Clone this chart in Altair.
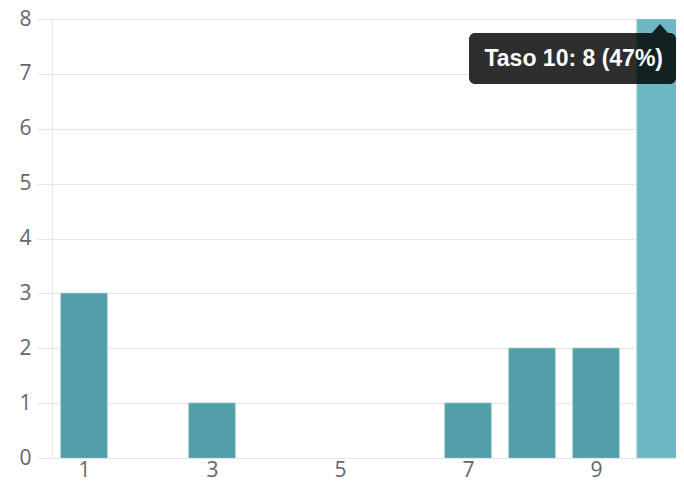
import altair as alt
import pandas as pd

# data
levels = [1, 2, 3, 4, 5, 6, 7, 8, 9, 10]
counts = [3, 0, 1, 0, 0, 0, 1, 2, 2, 8]
x_tick_labels = [1, 3, 5, 7, 9]
y_ticks = [0, 1, 2, 3, 4, 5, 6, 7, 8]
hovered_level = 10

total = sum(counts)
df = pd.DataFrame({"level": levels, "count": counts})
df["hover"] = df["level"] == hovered_level

hv = counts[levels.index(hovered_level)]
tip = pd.DataFrame({
    "level": [hovered_level],
    "count": [hv],
    "label": [f"Taso {hovered_level}: {hv} ({round(hv / total * 100)}%)"],
})

AX_FONT = "Open Sans"
GRID = "#e5e5e5"
x_scale = alt.Scale(domain=[0.5, 10.25], nice=False, zero=False)
y_scale = alt.Scale(domain=[0, 8], nice=False)

bars = alt.Chart(df).transform_filter("datum.count > 0").transform_calculate(
    x0="datum.level - 0.36", x1="datum.level + 0.36"
).mark_bar(clip=True, strokeWidth=1).encode(
    x=alt.X("x0:Q", scale=x_scale, axis=alt.Axis(
        values=x_tick_labels, format="d", title=None, grid=False, ticks=False,
        domainColor=GRID, labelFont=AX_FONT, labelFontSize=21,
        labelColor="#666666", labelPadding=1)),
    x2="x1:Q",
    y=alt.Y("count:Q", scale=y_scale, axis=alt.Axis(
        values=y_ticks, format="d", title=None, grid=True, gridColor=GRID,
        tickSize=15, tickColor=GRID, domainColor=GRID,
        labelFont=AX_FONT, labelFontSize=21, labelColor="#666666",
        labelPadding=6)),
    y2=alt.datum(0),
    fill=alt.condition("datum.hover", alt.value("#6bb8c4"), alt.value("#519ea9")),
    stroke=alt.condition("datum.hover", alt.value("#86c6cf"), alt.value("#6fb0b9")),
)

box = alt.Chart(tip).mark_rect(
    fill="#000000", fillOpacity=0.82, cornerRadius=6,
    xOffset=-191, x2Offset=16, yOffset=14, y2Offset=65,
).encode(
    x=alt.X("level:Q", scale=x_scale), x2="level:Q",
    y=alt.Y("count:Q", scale=y_scale), y2="count:Q",
)

caret = alt.Chart(tip).mark_point(
    shape="M-1,0.56 L0,-0.56 L1,0.56 Z", filled=True, size=256,
    fill="#000000", fillOpacity=0.82, strokeWidth=0, yOffset=9.5,
).encode(
    x=alt.X("level:Q", scale=x_scale),
    y=alt.Y("count:Q", scale=y_scale),
)

text = alt.Chart(tip).mark_text(
    align="right", baseline="middle", dx=3, dy=40,
    font="Liberation Sans", fontSize=23, fontWeight="bold", color="#ffffff",
).encode(
    x=alt.X("level:Q", scale=x_scale),
    y=alt.Y("count:Q", scale=y_scale),
    text="label:N",
)

chart = alt.layer(bars, box, caret, text).properties(
    width=624, height=439,
    autosize=alt.AutoSizeParams(type="none"),
    padding={"left": 44, "top": 11, "right": 0, "bottom": 23},
    background="#ffffff",
).configure_view(stroke=None)

chart.save("out.html", embed_options={"renderer": "svg", "actions": False})
